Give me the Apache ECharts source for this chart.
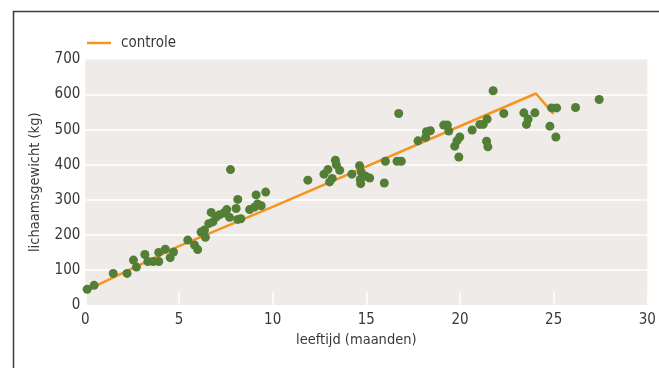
<!DOCTYPE html>
<html>
<head>
<meta charset="utf-8">
<script src="https://cdn.jsdelivr.net/npm/echarts@6/dist/echarts.min.js"></script>
<style>html,body{margin:0;padding:0;background:#fff}#c{width:659px;height:368px}</style>
</head>
<body>
<div id="c"></div>
<script>
const xTicks = [0, 5, 10, 15, 20, 25, 30];
const yTicks = [0, 100, 200, 300, 400, 500, 600, 700];
const controleName = 'controle';
const controleLine = [[0, 40], [5, 168], [10, 280], [24.05, 603], [25, 545]];
const measurements = [
  [0.1,45],[0.47,56],[1.49,90],[2.23,90],[2.57,128],[2.73,108],[3.18,144],[3.34,124],[3.62,124],[3.92,124],[3.92,150],[4.27,159],[4.53,135],[4.71,151],
  [5.47,185],[5.83,171],[6.0,158],[6.18,208],[6.36,214],[6.41,193],[6.59,232],[6.72,264],[6.81,237],[6.98,251],[7.16,257],[7.39,262],[7.55,272],[7.7,250],[8.05,275],[8.14,301],[8.14,244],[8.3,246],[8.77,272],[9.03,279],[9.12,314],[9.2,288],[9.39,283],[9.63,322],[7.75,386],
  [11.88,356],[12.74,373],[12.95,386],[13.35,413],[13.4,400],[13.58,384],[13.04,351],[13.18,361],[14.23,373],[14.64,397],[14.73,379],[14.68,358],[14.7,346],[14.97,367],[15.18,362],[15.96,348],[16.02,410],[16.64,410],[16.87,410],[16.73,546],
  [17.76,468],[18.21,494],[18.42,497],[18.17,478],[19.13,513],[19.33,513],[19.4,496],[19.72,453],[19.84,468],[19.99,479],[19.94,422],[20.65,499],[21.06,515],[21.24,515],[21.45,530],[21.42,467],[21.49,451],[21.77,611],[22.34,546],
  [23.41,548],[23.64,530],[23.55,515],[24.0,548],[24.8,510],[24.89,562],[25.16,562],[25.12,479],[26.17,563],[27.43,586]
];
const FONT = "'DejaVu Sans Condensed','DejaVu Sans',sans-serif";
const TXT = '#383838';
const chart = echarts.init(document.getElementById('c'), null, {renderer: 'canvas'});
chart.setOption({
  animation: false,
  graphic: [{
    type: 'rect', left: 11, top: 9, silent: true,
    shape: {x: 0, y: 0, width: 700, height: 400},
    style: {fill: 'none', stroke: '#3c3c3c', lineWidth: 1.5}
  }],
  legend: {
    data: [controleName], left: 82, top: 30.5, icon: 'rect', itemWidth: 24, itemHeight: 2.5,
    textStyle: {fontFamily: FONT, fontSize: 15, color: TXT, padding: [0, 0, 0, 5]}
  },
  grid: {left: 85.3, right: 11.7, top: 59.5, bottom: 63, show: true, backgroundColor: '#EEEBE8', borderWidth: 0},
  xAxis: {
    type: 'value', min: xTicks[0], max: xTicks[xTicks.length - 1], interval: 5,
    name: 'leeftijd (maanden)', nameLocation: 'middle', nameGap: 28,
    nameTextStyle: {fontFamily: FONT, fontSize: 14.5, color: TXT, padding: [0, 20, 0, 0]},
    axisLine: {show: false},
    axisTick: {show: true, inside: true, length: 13, lineStyle: {color: '#ffffff', width: 1.5}},
    axisLabel: {fontFamily: FONT, fontSize: 15, color: TXT, margin: 8},
    splitLine: {show: false}
  },
  yAxis: {
    type: 'value', min: yTicks[0], max: yTicks[yTicks.length - 1], interval: 100,
    name: 'lichaamsgewicht (kg)', nameLocation: 'middle', nameGap: 43,
    nameTextStyle: {fontFamily: FONT, fontSize: 14.5, color: TXT},
    axisLine: {show: false}, axisTick: {show: false},
    axisLabel: {fontFamily: FONT, fontSize: 15, color: TXT, margin: 5},
    splitLine: {show: true, showMinLine: false, showMaxLine: false, lineStyle: {color: '#ffffff', width: 1.5}}
  },
  series: [
    {
      name: controleName, type: 'line', data: controleLine, symbol: 'none',
      lineStyle: {color: '#F7941E', width: 2.5}, itemStyle: {color: '#F7941E'}, z: 2
    },
    {
      name: 'metingen', type: 'scatter', data: measurements, symbolSize: 9,
      itemStyle: {color: '#527F35', opacity: 1}, z: 3
    }
  ]
});
</script>
</body>
</html>
